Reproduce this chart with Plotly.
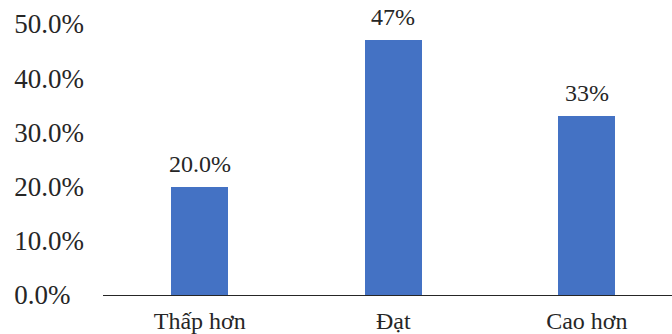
import plotly.graph_objects as go

# Share of results per category
categories = ["Thấp hơn", "Đạt", "Cao hơn"]
values = [20.0, 47.0, 33.0]
value_labels = ["20.0%", "47%", "33%"]

# Y-axis ticks
tick_vals = [0, 10, 20, 30, 40, 50]
tick_text = ["0.0%\u00a0\u00a0", "10.0%", "20.0%", "30.0%", "40.0%", "50.0%"]

BAR_COLOR = "#4472C4"
TEXT_COLOR = "#262626"
FONT = "Liberation Serif"

fig = go.Figure(
    go.Bar(
        x=categories,
        y=values,
        marker=dict(color=BAR_COLOR, line=dict(width=0)),
        width=0.295,
        hoverinfo="skip",
    )
)

for cat, val, lab in zip(categories, values, value_labels):
    fig.add_annotation(
        x=cat, y=val, text=lab, showarrow=False,
        yanchor="bottom", yshift=8,
        font=dict(family=FONT, size=24, color=TEXT_COLOR),
    )

fig.update_layout(
    width=672, height=334,
    margin=dict(l=103, r=0, t=24, b=35),
    paper_bgcolor="white", plot_bgcolor="white",
    showlegend=False,
    font=dict(family=FONT, color=TEXT_COLOR),
    bargap=0,
)
fig.update_xaxes(
    range=[-0.5, 2.44],
    showline=True, linecolor="#262626", linewidth=1.3,
    showgrid=False, zeroline=False, ticks="",
    tickfont=dict(family=FONT, size=24, color=TEXT_COLOR),
    ticklabelstandoff=4,
)
fig.update_yaxes(
    range=[0, 50],
    tickvals=tick_vals, ticktext=tick_text,
    showline=False, showgrid=False, zeroline=False, ticks="",
    tickfont=dict(family=FONT, size=27, color=TEXT_COLOR),
    ticklabelstandoff=18,
)

fig.write_html("out.html")
